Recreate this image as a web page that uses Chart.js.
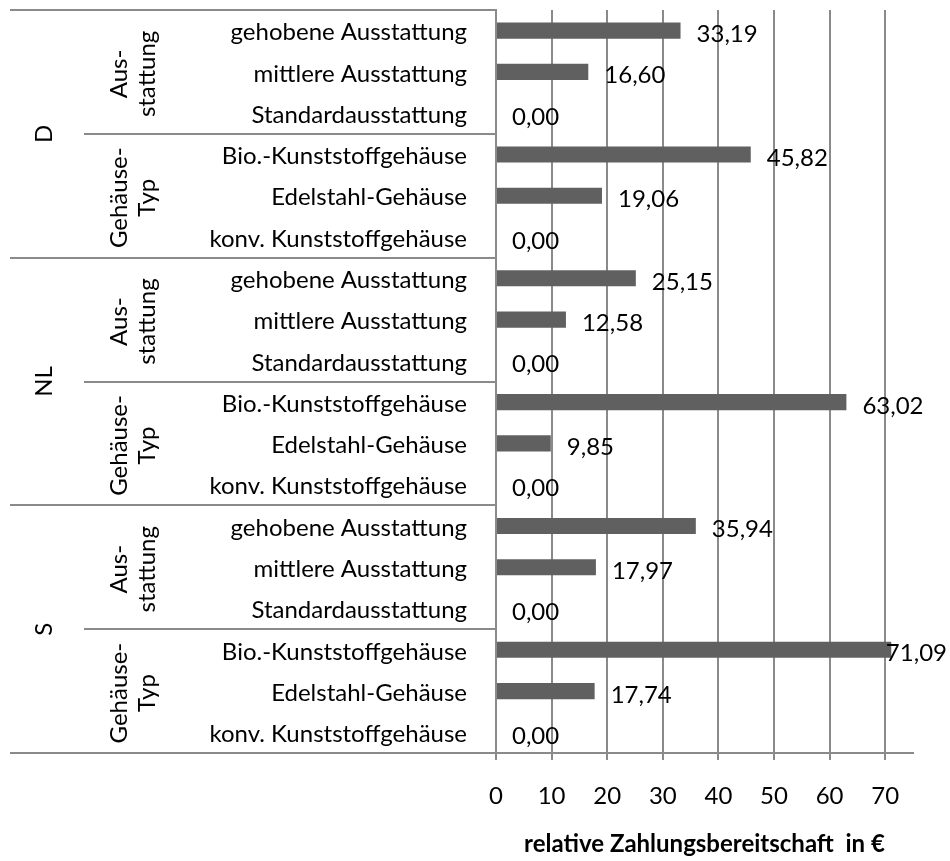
<!DOCTYPE html>
<html>
<head>
<meta charset="utf-8">
<script src="https://cdn.jsdelivr.net/npm/chart.js@4.4.1/dist/chart.umd.min.js"></script>
<style>
  html, body { margin: 0; padding: 0; background: #fff; }
  #wrap { width: 950px; height: 861px; position: relative; }
</style>
</head>
<body>
<div id="wrap"><canvas id="chart"></canvas></div>
<script>
// Three-level category axis: country > attribute > level
const countries = ['D', 'NL', 'S'];
const groups = [['Aus-', 'stattung'], ['Gehäuse-', 'Typ']];
const groupItems = [
  ['gehobene Ausstattung', 'mittlere Ausstattung', 'Standardausstattung'],
  ['Bio.-Kunststoffgehäuse', 'Edelstahl-Gehäuse', 'konv. Kunststoffgehäuse']
];

// relative willingness to pay (€) per country, same order as the labels above
const valuesD  = [33.19, 16.60, 0.00, 45.82, 19.06, 0.00];
const valuesNL = [25.15, 12.58, 0.00, 63.02, 9.85, 0.00];
const valuesS  = [35.94, 17.97, 0.00, 71.09, 17.74, 0.00];

const xTicks = [0, 10, 20, 30, 40, 50, 60, 70];
const xMax = 75;
const xTitle = 'relative Zahlungsbereitschaft  in €';

const FONT = 'Lato';
const LINE = '#8a8a8a';
const BAR = '#606060';

const labels = [];
countries.forEach(() => groupItems.forEach(list => list.forEach(l => labels.push(l))));
const values = [].concat(valuesD, valuesNL, valuesS);
const perGroup = groupItems[0].length;
const perCountry = perGroup * groups.length;

function fmt(v) { return v.toFixed(2).replace('.', ','); }

// value labels to the right of each bar
const valueLabels = {
  id: 'valueLabels',
  afterDatasetsDraw(chart) {
    const ctx = chart.ctx;
    const meta = chart.getDatasetMeta(0);
    ctx.save();
    ctx.font = '24px ' + FONT;
    ctx.fillStyle = '#000';
    ctx.textAlign = 'left';
    ctx.textBaseline = 'alphabetic';
    meta.data.forEach((bar, i) => {
      const txt = fmt(values[i]);
      const w = ctx.measureText(txt).width;
      let x = bar.x + 16;
      if (x + w > chart.width - 3) x = chart.width - 3 - w;
      ctx.fillText(txt, x, bar.y + 11.5);
    });
    ctx.restore();
  }
};

// group and country labels with their separator lines left of the axis
const categoryTree = {
  id: 'categoryTree',
  afterDraw(chart) {
    const ctx = chart.ctx;
    const y = chart.scales.y;
    const area = chart.chartArea;
    const edge = i => {
      if (i <= 0) return area.top;
      if (i >= labels.length) return area.bottom;
      return (y.getPixelForValue(i - 1) + y.getPixelForValue(i)) / 2;
    };
    ctx.save();
    ctx.strokeStyle = LINE;
    ctx.lineWidth = 2;
    const hline = (x0, yy) => {
      ctx.beginPath();
      ctx.moveTo(x0, Math.round(yy));
      ctx.lineTo(area.left, Math.round(yy));
      ctx.stroke();
    };
    for (let c = 0; c <= countries.length; c++) hline(10, edge(c * perCountry));
    for (let c = 0; c < countries.length; c++) {
      for (let g = 1; g < groups.length; g++) hline(84, edge(c * perCountry + g * perGroup));
    }

    ctx.fillStyle = '#000';
    ctx.font = '24px ' + FONT;
    ctx.textAlign = 'center';
    ctx.textBaseline = 'alphabetic';
    const vtext = (txt, bx, cy) => {
      ctx.save();
      ctx.translate(bx, cy);
      ctx.rotate(-Math.PI / 2);
      ctx.fillText(txt, 0, 0);
      ctx.restore();
    };
    countries.forEach((name, c) => {
      const top = edge(c * perCountry), bot = edge((c + 1) * perCountry);
      vtext(name, 52, (top + bot) / 2);
      groups.forEach((lines, g) => {
        const gt = edge(c * perCountry + g * perGroup);
        const gb = edge(c * perCountry + (g + 1) * perGroup);
        const cy = (gt + gb) / 2 + 2;
        vtext(lines[0], 127, cy);
        vtext(lines[1], 155, cy);
      });
    });
    ctx.restore();
  }
};

new Chart(document.getElementById('chart'), {
  type: 'bar',
  data: {
    labels: labels,
    datasets: [{
      data: values,
      backgroundColor: BAR,
      borderWidth: 0,
      categoryPercentage: 1,
      barPercentage: 0.39
    }]
  },
  options: {
    indexAxis: 'y',
    responsive: true,
    maintainAspectRatio: false,
    animation: false,
    devicePixelRatio: 1,
    layout: { padding: { top: 10, right: 37, bottom: 0, left: 0 } },
    plugins: { legend: { display: false }, tooltip: { enabled: false } },
    scales: {
      x: {
        type: 'linear',
        min: 0,
        max: xMax,
        afterBuildTicks: s => { s.ticks = xTicks.map(v => ({ value: v })); },
        afterFit: s => { s.height = 108; },
        grid: { color: LINE, lineWidth: 2, drawTicks: true, tickLength: 7 },
        border: { color: LINE, width: 2 },
        ticks: { font: { family: FONT, size: 24 }, color: '#000', padding: 22, maxRotation: 0, autoSkip: false },
        title: {
          display: true, text: xTitle, color: '#000',
          font: { family: FONT, size: 24, weight: 'bold' },
          padding: { top: 0, bottom: 2 }
        }
      },
      y: {
        type: 'category',
        afterFit: s => { s.width = 496; s.paddingTop = 0; s.paddingBottom = 0; },
        grid: { display: false, drawTicks: false, tickLength: 0 },
        border: { display: true, color: LINE, width: 2 },
        ticks: { font: { family: FONT, size: 24 }, color: '#000', padding: 29, autoSkip: false, labelOffset: 2 }
      }
    }
  },
  plugins: [valueLabels, categoryTree]
});
</script>
</body>
</html>
